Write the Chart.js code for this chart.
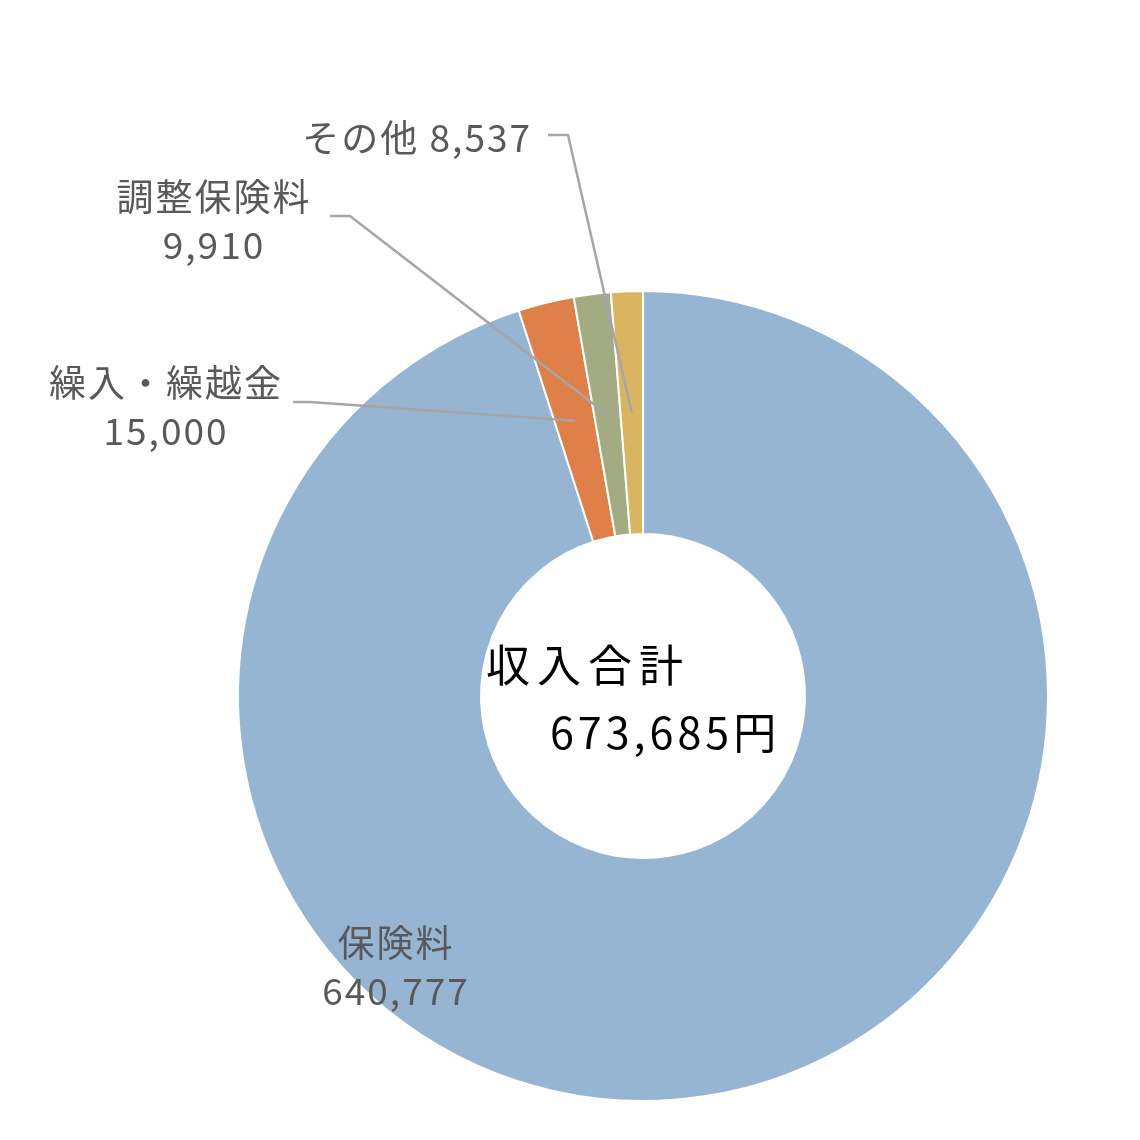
<!DOCTYPE html>
<html>
<head>
<meta charset="utf-8">
<script src="https://cdn.jsdelivr.net/npm/chart.js@4/dist/chart.umd.min.js"></script>
<style>
  html, body { margin: 0; padding: 0; background: #fff; }
  #wrap { width: 1140px; height: 1140px; }
</style>
</head>
<body>
<div id="wrap"><canvas id="c"></canvas></div>
<script>
const categories = ['保険料', '繰入・繰越金', '調整保険料', 'その他'];
const amounts = [640777, 15000, 9910, 8537];
const colors = ['#95B5D3', '#DE8047', '#A3AB82', '#D9B461'];
const totalLabel = ['収入合計', '673,685円'];

const FONT = '"Noto Sans CJK JP", "Noto Sans", sans-serif';

// where each label's text sits, and the elbow of its leader line
const labelSpots = [
  { lines: 2, x: 396, y: 943, align: 'center' },
  { lines: 2, x: 166, y: 383, align: 'center', leader: [[293, 402], [310, 402]] },
  { lines: 2, x: 214, y: 197, align: 'center', leader: [[330, 216], [350, 216]] },
  { lines: 1, x: 532, y: 138, align: 'right', leader: [[548, 135], [568, 135]] }
];

const labelPlugin = {
  id: 'sliceLabels',
  afterDatasetsDraw(chart) {
    const ctx = chart.ctx;
    const arcs = chart.getDatasetMeta(0).data;
    ctx.save();

    // leader lines
    ctx.strokeStyle = '#A6A6A6';
    ctx.lineWidth = 2.5;
    labelSpots.forEach((s, i) => {
      if (!s.leader) return;
      const p = arcs[i].tooltipPosition();
      ctx.beginPath();
      ctx.moveTo(s.leader[0][0], s.leader[0][1]);
      ctx.lineTo(s.leader[1][0], s.leader[1][1]);
      ctx.lineTo(p.x, p.y);
      ctx.stroke();
    });

    // texts
    ctx.fillStyle = '#595959';
    ctx.font = '37px ' + FONT;
    ctx.letterSpacing = '2px';
    ctx.textBaseline = 'middle';
    labelSpots.forEach((s, i) => {
      const value = amounts[i].toLocaleString('en-US');
      ctx.textAlign = s.align;
      if (s.lines === 2) {
        ctx.fillText(categories[i], s.x, s.y);
        ctx.fillText(value, s.x, s.y + 48);
      } else {
        ctx.fillText(categories[i] + ' ' + value, s.x, s.y);
      }
    });

    // centre total
    ctx.fillStyle = '#000';
    ctx.font = '44px ' + FONT;
    ctx.textAlign = 'left';
    ctx.letterSpacing = '7px';
    ctx.fillText(totalLabel[0], 486, 665);
    ctx.font = '43px ' + FONT;
    ctx.letterSpacing = '4px';
    ctx.fillText(totalLabel[1], 550, 733);
    ctx.restore();
  }
};

new Chart(document.getElementById('c'), {
  type: 'doughnut',
  data: {
    labels: categories,
    datasets: [{
      data: amounts,
      backgroundColor: colors,
      borderColor: '#fff',
      borderWidth: 2
    }]
  },
  options: {
    responsive: true,
    maintainAspectRatio: false,
    animation: false,
    cutout: '40%',
    layout: { padding: { left: 237, right: 91, top: 290, bottom: 38 } },
    plugins: {
      legend: { display: false },
      tooltip: { enabled: false }
    }
  },
  plugins: [labelPlugin]
});
</script>
</body>
</html>
